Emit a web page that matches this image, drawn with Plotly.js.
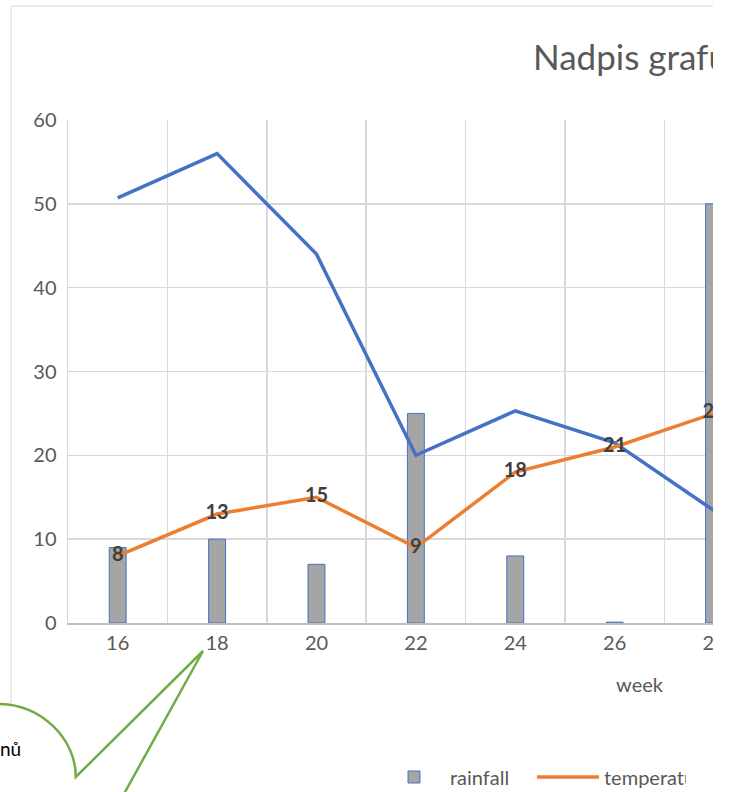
<!DOCTYPE html>
<html>
<head>
<meta charset="utf-8">
<script src="https://cdn.plot.ly/plotly-3.0.1.min.js"></script>
<style>
  html, body { margin: 0; padding: 0; background: #ffffff; overflow: hidden; }
  #crop { position: absolute; left: 0; top: 0; width: 713px; height: 792px; overflow: hidden; background: #ffffff; }
  #chart { position: absolute; left: -40px; top: 0; width: 1320px; height: 840px; }
</style>
</head>
<body>
<div id="crop"><div id="chart"></div></div>
<script>
// ---- data ----
const weeks = [16, 18, 20, 22, 24, 26, 28];
const weekLabels = ['16', '18', '20', '22', '24', '26', '28'];
const rainfall = [9, 10, 7, 25, 8, 0.1, 50];
const temperature = [8, 13, 15, 9, 18, 21, 25];
const thirdSeries = [50.7, 56, 44, 20, 25.3, 21.5, 13.4];
const yTicks = [0, 10, 20, 30, 40, 50, 60];
const chartTitle = 'Nadpis grafu';
const xTitle = 'week';
const calloutText = 'nů';

// ---- geometry (page pixels) ----
const OX = -40, W = 1320, H = 840;
const plotL = 68, plotR = 1211, plotT = 120, plotB = 623;
const px = x => (x - plotL) / (plotR - plotL);
const py = y => (plotB - y) / (plotB - plotT);
const P = (x, y) => px(x).toFixed(5) + ',' + py(y).toFixed(5);

const FONT = 'Lato, "Open Sans", sans-serif';
const GRAY = '#595959';
const GRID = '#d9d9d9';

const traces = [
  {
    type: 'bar', name: 'rainfall', x: weeks, y: rainfall, width: 0.34,
    marker: { color: '#a5a5a5', line: { color: '#4472c4', width: 1 } },
    legendrank: 1
  },
  {
    type: 'scatter', mode: 'lines', name: 'humidity', x: weeks, y: thirdSeries,
    line: { color: '#4472c4', width: 3.5 }, legend: 'legend2'
  },
  {
    type: 'scatter', mode: 'lines+text', name: 'temperature', x: weeks, y: temperature,
    line: { color: '#ed7d31', width: 3.5 },
    text: temperature.map(String), textposition: 'middle center',
    textfont: { family: FONT, size: 20, color: '#404040', weight: 'bold' },
    legendrank: 2
  }
];

// callout (oval bubble) path in page pixels
const calloutPath =
  'M' + P(203, 651) +
  ' L' + P(75.8, 777) +
  ' C' + P(76, 738.9) + ' ' + P(41.1, 704) + ' ' + P(-2, 704) +
  ' C' + P(-45.1, 704) + ' ' + P(-80, 738.9) + ' ' + P(-80, 782) +
  ' L' + P(-80, 830) + ' L' + P(104, 830) + ' Z';

const legendCommon = {
  orientation: 'h', xanchor: 'left', y: py(777), yanchor: 'middle',
  font: { family: FONT, size: 20, color: GRAY },
  traceorder: 'normal', itemwidth: 62, bgcolor: 'rgba(0,0,0,0)'
};

const layout = {
  width: W, height: H,
  margin: { l: plotL - OX, r: W - (plotR - OX), t: plotT, b: H - plotB, pad: 0 },
  paper_bgcolor: '#ffffff', plot_bgcolor: '#ffffff',
  font: { family: FONT, color: GRAY, size: 20 },
  title: {
    text: chartTitle, xref: 'container', yref: 'container',
    x: (533 - OX) / W, xanchor: 'left', y: 1 - 58 / H, yanchor: 'middle',
    font: { family: FONT, size: 35, color: GRAY, weight: 400 }
  },
  showlegend: true,
  legend: Object.assign({}, legendCommon, { x: px(378), entrywidth: 77, entrywidthmode: 'pixels' }),
  legend2: Object.assign({}, legendCommon, { x: px(745) }),
  barmode: 'overlay',
  xaxis: {
    range: [15, 38], tickvals: weeks, ticktext: weekLabels,
    showgrid: false, zeroline: false,
    showline: true, linecolor: '#bfbfbf', linewidth: 1.5,
    ticks: '', ticklabelstandoff: 1,
    tickfont: { family: FONT, size: 20, color: GRAY },
    minor: { tick0: 15, dtick: 2, showgrid: true, gridcolor: GRID, gridwidth: 1.5, ticks: '' },
    title: { text: xTitle, standoff: 25, font: { family: FONT, size: 20, color: GRAY } }
  },
  yaxis: {
    range: [0, 60], tickvals: yTicks, ticktext: yTicks.map(String),
    showgrid: true, gridcolor: GRID, gridwidth: 1.5,
    zeroline: false, showline: true, linecolor: GRID, linewidth: 1.5,
    ticks: '', ticklabelstandoff: 6,
    tickfont: { family: FONT, size: 20, color: GRAY }
  },
  shapes: [
    { type: 'rect', xref: 'paper', yref: 'paper', layer: 'below',
      x0: px(11), x1: px(1240), y0: py(830), y1: py(6),
      line: { color: GRID, width: 1 }, fillcolor: 'rgba(0,0,0,0)' },
    { type: 'path', xref: 'paper', yref: 'paper', layer: 'above',
      path: calloutPath, fillcolor: '#ffffff',
      line: { color: '#70ad47', width: 2.5 } }
  ],
  annotations: [
    { text: calloutText, xref: 'paper', yref: 'paper', x: px(23), y: py(748),
      xanchor: 'right', yanchor: 'middle', showarrow: false,
      font: { family: FONT, size: 19, color: '#000000' } }
  ]
};

Plotly.newPlot('chart', traces, layout, { displayModeBar: false, staticPlot: true });
</script>
</body>
</html>
